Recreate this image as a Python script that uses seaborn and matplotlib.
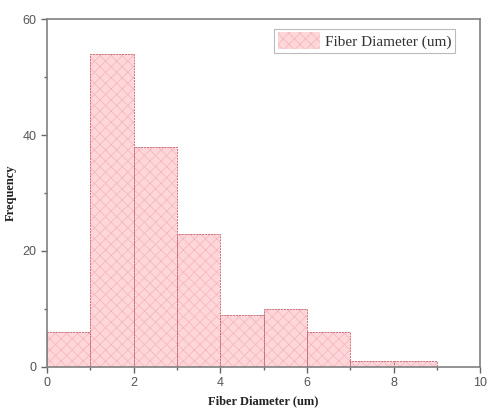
import matplotlib
matplotlib.use("Agg")
import matplotlib.pyplot as plt
import seaborn as sns
import numpy as np
import pandas as pd

bin_edges = [0, 1, 2, 3, 4, 5, 6, 7, 8, 9]
bin_centers = [0.5, 1.5, 2.5, 3.5, 4.5, 5.5, 6.5, 7.5, 8.5]
counts = [6, 54, 38, 23, 9, 10, 6, 1, 1]
series_label = "Fiber Diameter (um)"
x_label = "Fiber Diameter (um)"
y_label = "Frequency"

sns.set_theme(style="white")
plt.rcParams['font.family'] = ['Liberation Sans', 'DejaVu Sans']
plt.rcParams['hatch.linewidth'] = 0.5

df = pd.DataFrame({"d": bin_centers, "n": counts})

fig = plt.figure(figsize=(4.88, 4.16), dpi=100)
ax = fig.add_axes([0.096, 0.118, 0.888, 0.836])

# filled, hatched bars (hatch colour follows edge colour)
sns.histplot(data=df, x="d", weights="n", bins=bin_edges, ax=ax,
             color="#ffd6da", alpha=1.0, edgecolor="#f4b4ba", linewidth=0.0,
             label=series_label)
for p in ax.patches:
    p.set_hatch('xxx')
n_fill = len(ax.patches)
# outlines
sns.histplot(data=df, x="d", weights="n", bins=bin_edges, ax=ax,
             fill=False, color="#c8707a", linewidth=0.7)
for p in ax.patches[n_fill:]:
    p.set_edgecolor("#c8707a")
    p.set_linestyle((0, (2, 1)))

ax.set_xlim(0, 10)
ax.set_ylim(0, 60)
ax.set_xticks([0, 2, 4, 6, 8, 10])
ax.set_yticks([0, 20, 40, 60])
ax.set_xticks([1, 3, 5, 7, 9], minor=True)
ax.set_yticks([10, 30, 50], minor=True)
ax.tick_params(axis='both', which='major', direction='out', length=4, width=1,
               color='#666666', labelsize=9, labelcolor='#555555', bottom=True, left=True)
ax.tick_params(axis='both', which='minor', direction='out', length=2, width=1,
               color='#666666', bottom=True, left=True)
for s in ax.spines.values():
    s.set_color('#808080')
    s.set_linewidth(1.2)
    s.set_visible(True)

ax.set_xlabel(x_label, fontsize=9, fontweight='bold', family='Liberation Serif', color='#222222')
ax.set_ylabel(y_label, fontsize=9, fontweight='bold', family='Liberation Serif', color='#222222')
ax.yaxis.labelpad = 4

leg = ax.legend(loc='upper right', bbox_to_anchor=(0.96, 0.995), frameon=True,
                fancybox=False, edgecolor='#aaaaaa',
                prop={'family': 'Liberation Serif', 'size': 11},
                handlelength=2.8, handleheight=1.3, borderpad=0.25, handletextpad=0.3)
leg.get_frame().set_linewidth(0.8)
for t in leg.get_texts():
    t.set_color('#333333')

fig.savefig("out.png", dpi=100)
